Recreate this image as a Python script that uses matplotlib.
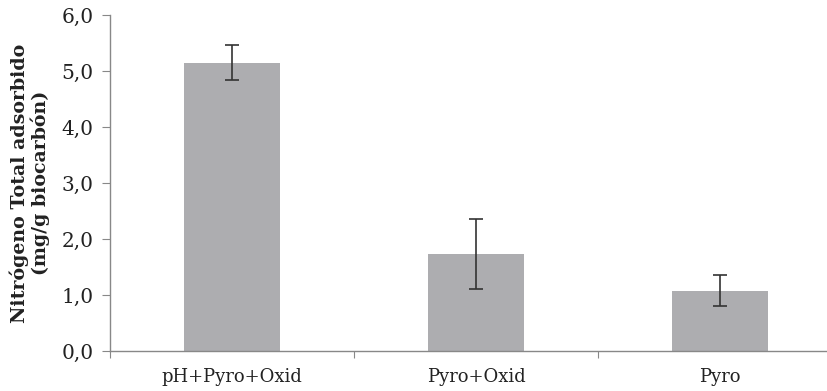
import matplotlib
matplotlib.use("Agg")
import matplotlib.pyplot as plt
import numpy as np
from matplotlib.ticker import FixedLocator, FuncFormatter

categories = ["pH+Pyro+Oxid", "Pyro+Oxid", "Pyro"]
values = [5.15, 1.73, 1.08]
errors = [0.31, 0.63, 0.28]
yticks = [0.0, 1.0, 2.0, 3.0, 4.0, 5.0, 6.0]

plt.rcParams['font.family'] = ['DejaVu Serif']

W, H = 828, 391
fig = plt.figure(figsize=(W/100, H/100), dpi=100)
left, right, bottom, top = 110, 842, 351, 15
ax = fig.add_axes([left/W, 1 - bottom/H, (right-left)/W, (bottom-top)/H])

x = np.arange(len(categories))
ax.bar(x, values, width=0.39, color="#ADADB0", zorder=2)
ax.errorbar(x, values, yerr=errors, fmt='none', ecolor="#333333",
            elinewidth=1.2, capsize=5, capthick=1.2, zorder=3)

ax.set_xlim(-0.5, len(categories) - 0.5)
ax.set_ylim(0, 6)
ax.set_yticks(yticks)
ax.yaxis.set_major_formatter(FuncFormatter(lambda v, p: f"{v:.1f}".replace('.', ',')))
ax.set_xticks(x)
ax.set_xticklabels(categories)
ax.xaxis.set_minor_locator(FixedLocator(np.arange(-0.5, len(categories), 1.0)))
ax.tick_params(axis='x', which='major', length=0, pad=12, labelsize=13, colors="#222222")
ax.tick_params(axis='x', which='minor', length=5, width=0.8, color="#888888")
ax.tick_params(axis='y', length=6, width=0.8, color="#888888", labelsize=14.5,
               labelcolor="#222222", pad=6)

for s in ['top', 'right']:
    ax.spines[s].set_visible(False)
for s in ['left', 'bottom']:
    ax.spines[s].set_color("#888888")
    ax.spines[s].set_linewidth(1.0)

ax.set_ylabel("Nitrógeno Total adsorbido\n(mg/g biocarbón)", fontsize=13.7,
              fontweight='bold', color="#222222", labelpad=8, linespacing=1.1)

fig.savefig("out.png", dpi=100)
